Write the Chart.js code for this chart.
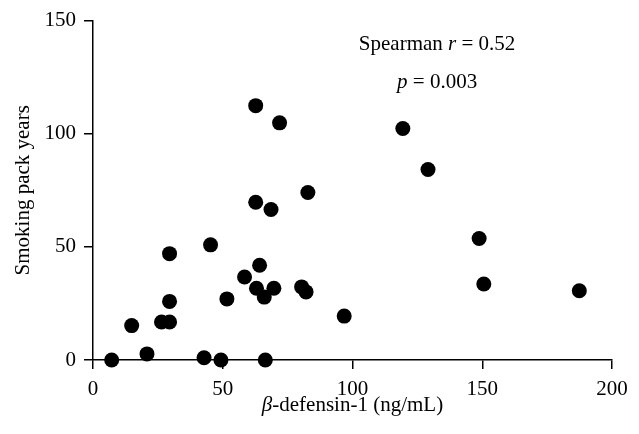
<!DOCTYPE html>
<html>
<head>
<meta charset="utf-8">
<script src="https://cdn.jsdelivr.net/npm/chart.js@4.4.1/dist/chart.umd.min.js"></script>
<style>
  html, body { margin: 0; padding: 0; background: #fff; }
  #wrap { width: 639px; height: 434px; }
</style>
</head>
<body>
<div id="wrap"><canvas id="myChart" width="639" height="434"></canvas></div>
<script>
// beta-defensin-1 (ng/mL) vs smoking pack years, one entry per subject
const defensin = [7.2, 14.9, 20.8, 26.4, 29.5, 29.5, 29.5, 42.8, 49.3, 45.3,
  51.6, 58.4, 64.2, 63.0, 66.0, 69.7, 66.4, 80.4, 82.1, 96.8,
  62.7, 68.6, 62.7, 71.9, 82.8, 119.4, 129.1, 148.8, 150.6, 187.4];
const packYears = [0, 15.2, 2.7, 16.8, 16.8, 25.9, 47.0, 1.0, 0, 50.9,
  27.0, 36.7, 41.9, 31.7, 27.8, 31.7, 0, 32.3, 30.1, 19.4,
  69.7, 66.5, 112.4, 104.8, 74.0, 102.3, 84.2, 53.7, 33.6, 30.6];

const xTicks = [0, 50, 100, 150, 200];
const yTicks = [0, 50, 100, 150];

// text runs: [string, italic]
const xTitle = [["β", true], ["-defensin-1 (ng/mL)", false]];
const statsText = [
  [["Spearman ", false], ["r", true], [" = 0.52", false]],
  [["p", true], [" = 0.003", false]]
];
const statsAnchor = { x: 132.6, y: [139.3, 122.7] };

const FONT = "'Liberation Serif', 'DejaVu Serif', serif";

// draws a line of mixed upright/italic runs centred on cx
function drawRuns(ctx, runs, cx, cy) {
  let total = 0;
  runs.forEach(([txt, italic]) => {
    ctx.font = (italic ? "italic " : "") + "21px " + FONT;
    total += ctx.measureText(txt).width;
  });
  let x = cx - total / 2;
  runs.forEach(([txt, italic]) => {
    ctx.font = (italic ? "italic " : "") + "21px " + FONT;
    ctx.fillText(txt, x, cy);
    x += ctx.measureText(txt).width;
  });
}

const textLayer = {
  id: "textLayer",
  afterDraw(chart) {
    const ctx = chart.ctx;
    const xs = chart.scales.x;
    const ys = chart.scales.y;
    const area = chart.chartArea;
    ctx.save();
    ctx.fillStyle = "#000";
    ctx.textBaseline = "middle";
    ctx.textAlign = "left";
    statsText.forEach((line, i) => {
      drawRuns(ctx, line, xs.getPixelForValue(statsAnchor.x), ys.getPixelForValue(statsAnchor.y[i]));
    });
    drawRuns(ctx, xTitle, (area.left + area.right) / 2, xs.bottom - 29);
    ctx.restore();
  }
};

const points = defensin.map((v, i) => ({ x: v, y: packYears[i] }));

const config = {
  type: "scatter",
  data: {
    datasets: [
      {
        data: points,
        backgroundColor: "#000",
        borderColor: "#000",
        borderWidth: 0,
        pointRadius: 7.5,
        pointHoverRadius: 7.5,
        clip: false,
      },
    ],
  },
  options: {
    responsive: false,
    animation: false,
    layout: { padding: { left: 0, top: 15, right: 27, bottom: 0 } },
    scales: {
      x: {
        type: "linear",
        min: 0,
        max: 200,
        afterBuildTicks: (scale) => {
          scale.ticks = xTicks.map((v) => ({ value: v }));
        },
        afterFit: (scale) => {
          scale.height = 74;
        },
        border: { color: "#000", width: 1.5 },
        grid: {
          drawOnChartArea: false,
          drawTicks: true,
          tickLength: 9,
          color: "#000",
          lineWidth: 1.5,
        },
        ticks: {
          color: "#000",
          padding: 8,
          maxRotation: 0,
          font: { family: FONT, size: 21 },
        },
      },
      y: {
        type: "linear",
        min: 0,
        max: 150,
        afterBuildTicks: (scale) => {
          scale.ticks = yTicks.map((v) => ({ value: v }));
        },
        afterFit: (scale) => {
          scale.width = 93;
        },
        border: { color: "#000", width: 1.5 },
        grid: {
          drawOnChartArea: false,
          drawTicks: true,
          tickLength: 9,
          color: "#000",
          lineWidth: 1.5,
        },
        ticks: {
          color: "#000",
          padding: 8,
          font: { family: FONT, size: 21 },
        },
        title: {
          display: true,
          text: "Smoking pack years",
          color: "#000",
          padding: { top: 11, bottom: 0 },
          font: { family: FONT, size: 21 },
        },
      },
    },
    plugins: {
      legend: { display: false },
      tooltip: { enabled: false },
    },
  },
  plugins: [textLayer],
};

const myChart = new Chart(document.getElementById("myChart"), config);
</script>
</body>
</html>
